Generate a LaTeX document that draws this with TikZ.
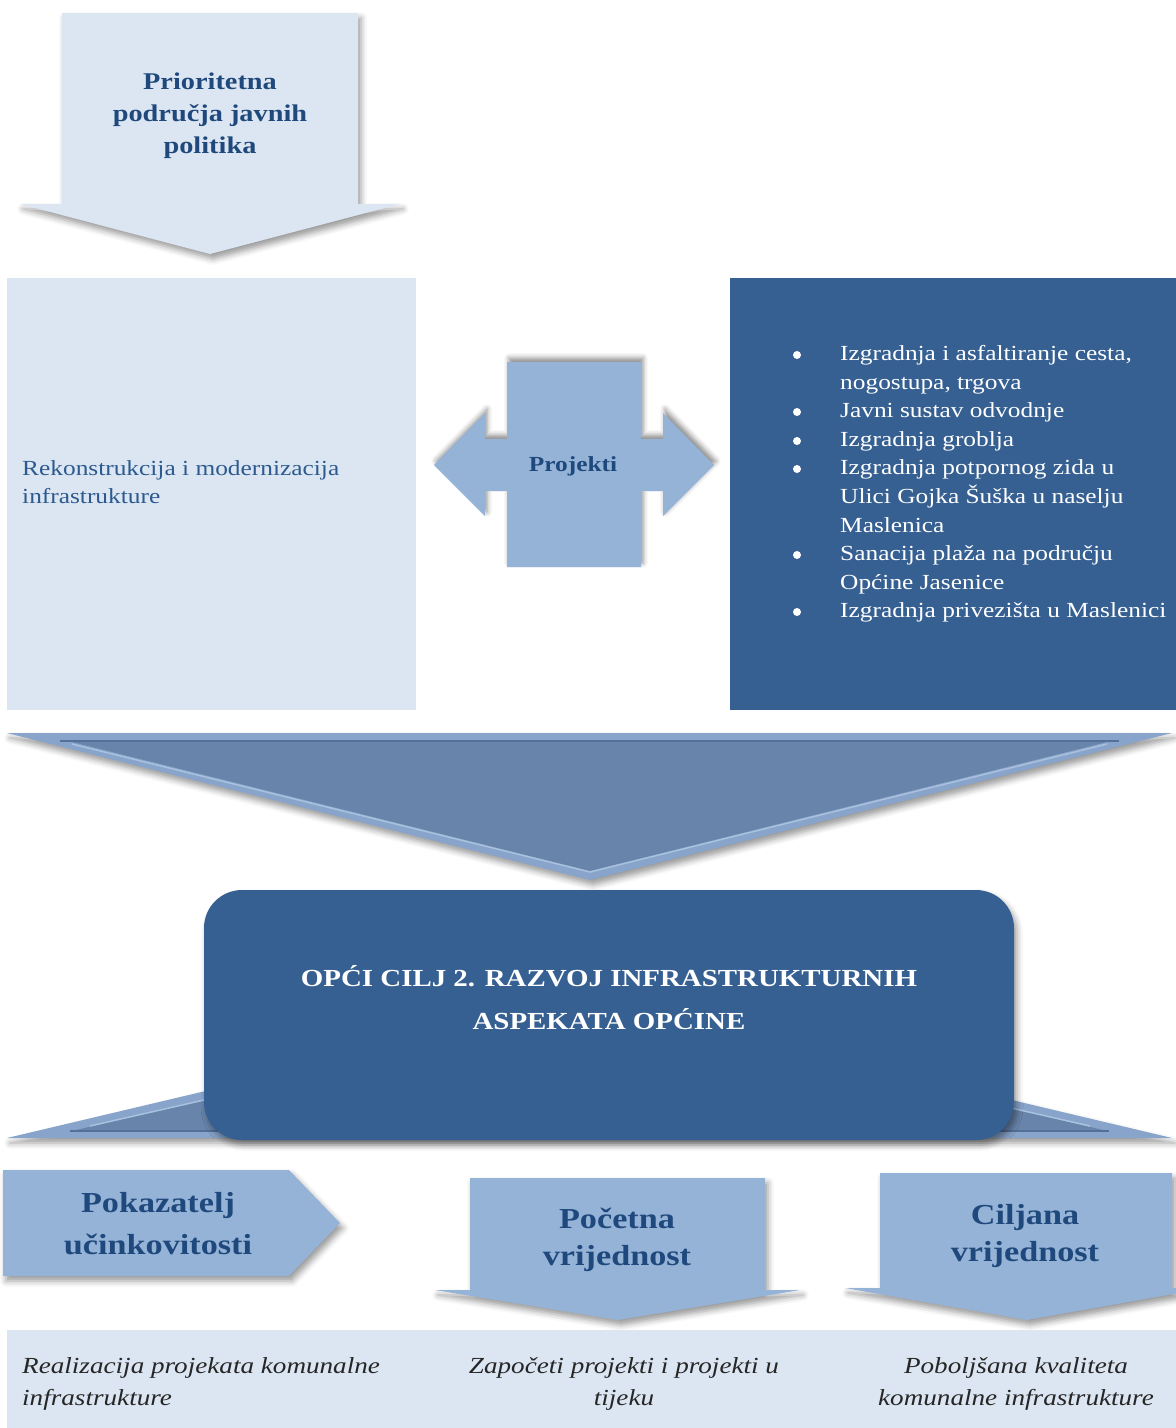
\documentclass[tikz,border=0pt]{standalone}
\usepackage{fontspec}
\setmainfont{Liberation Serif}[FakeStretch=1.18]
\usetikzlibrary{shadows.blur}
\definecolor{lightbg}{HTML}{DCE6F2}
\definecolor{midblue}{HTML}{95B3D7}
\definecolor{darkbox}{HTML}{366092}
\definecolor{headtxt}{HTML}{1F497D}
\definecolor{lefttxt}{HTML}{2C5A8E}
\definecolor{triout}{HTML}{88A4CA}
\definecolor{triin}{HTML}{6884AA}
\definecolor{trihi}{HTML}{A9C1DE}
\definecolor{trilo}{HTML}{54709A}
\tikzset{
  softshadow/.style={blur shadow={shadow xshift=3pt, shadow yshift=-5pt, shadow blur radius=6pt, shadow opacity=40}},
  upshadow/.style={blur shadow={shadow xshift=2pt, shadow yshift=4pt, shadow blur radius=5pt, shadow opacity=45}},
  headlbl/.style={inner sep=0pt, align=center, text=headtxt, font=\fontsize{24}{32}\selectfont\bfseries},
  biglbl/.style={inner sep=0pt, align=center, text=headtxt, font=\fontsize{29}{37}\selectfont\bfseries},
  bodylbl/.style={inner sep=0pt, align=left, font=\fontsize{21.5}{28.6}\selectfont},
  itlbl/.style={inner sep=0pt, text=black!85, font=\fontsize{23}{32}\selectfont\itshape},
  bul/.style={circle, fill=white, inner sep=0pt, minimum size=8pt},
}
\begin{document}
\begin{tikzpicture}[x=1pt,y=-1pt]
\useasboundingbox (0,0) rectangle (1176,1428);

% top down arrow
\path[fill=lightbg, softshadow] (62,13) -- (358,13) -- (358,204) -- (400,204) -- (210,254) -- (20,204) -- (62,204) -- cycle;
\node[headlbl] (prio) at (210,116) {Prioritetna\\područja javnih\\politika};

% left box
\path[fill=lightbg] (7,278) rectangle (416,710);
\node[bodylbl, text=lefttxt, anchor=west] (rek) at (22,482) {Rekonstrukcija i modernizacija\\infrastrukture};

% right box
\path[fill=darkbox] (730,278) rectangle (1176,710);
\node[bodylbl, text=white, anchor=west] (list) at (840,484) {Izgradnja i asfaltiranje cesta,\\nogostupa, trgova\\Javni sustav odvodnje\\Izgradnja groblja\\Izgradnja potpornog zida u\\Ulici Gojka Šuška u naselju\\Maslenica\\Sanacija plaža na području\\Općine Jasenice\\Izgradnja privezišta u Maslenici};
\foreach \i/\yy in {1/355, 2/412, 3/441, 4/469, 5/555, 6/612} {
  \path (797,\yy) node[bul] (bul\i) {};
}

% Projekti cross arrow
\path[fill=midblue, upshadow] (507,362) -- (641,362) -- (641,439) -- (663,439) -- (663,413) -- (714,465) -- (663,516) -- (663,491) -- (641,491) -- (641,567) -- (507,567) -- (507,491) -- (485,491) -- (485,516) -- (434,465) -- (485,413) -- (485,439) -- (507,439) -- cycle;
\node[inner sep=0pt, text=headtxt, font=\fontsize{21.5}{26}\selectfont\bfseries] (proj) at (573,466) {Projekti};

% big downward triangle
\path[fill=triout, softshadow] (7,733) -- (1172,733) -- (590,880) -- cycle;
\path[fill=triin] (72,742) -- (1107,742) -- (590,871) -- cycle;
\draw[trilo, line width=2pt] (60,741) -- (1119,741);
\draw[trihi, line width=1.5pt] (72,744) -- (590,872) -- (1107,744);

% lower upward triangle behind goal box
\path[fill=triout, softshadow] (7,1138) -- (1172,1138) -- (590,1000) -- cycle;
\path[fill=triin] (76,1130) -- (1103,1130) -- (590,1009) -- cycle;
\draw[trilo, line width=2pt] (70,1131) -- (1109,1131);
\draw[trihi, line width=1.5pt] (90,1126) -- (590,1012) -- (1090,1126);

% goal box
\path[fill=darkbox, rounded corners=38pt, softshadow] (204,890) rectangle (1014,1140);
\node[inner sep=0pt, align=center, text=white, font=\fontsize{24.5}{43}\selectfont\bfseries] (goal) at (609,998) {OPĆI CILJ 2. RAZVOJ INFRASTRUKTURNIH\\ASPEKATA OPĆINE};

% indicator arrow
\path[fill=midblue, softshadow] (3,1170) -- (289,1170) -- (340,1223) -- (289,1276) -- (3,1276) -- cycle;
\node[biglbl, font=\fontsize{29}{42}\selectfont\bfseries] (pok) at (158,1224) {Pokazatelj\\učinkovitosti};

% baseline arrow
\path[fill=midblue, softshadow] (470,1178) -- (765,1178) -- (765,1290) -- (800,1290) -- (618,1320) -- (435,1290) -- (470,1290) -- cycle;
\node[biglbl] (poc) at (617,1240) {Početna\\vrijednost};

% target arrow
\path[fill=midblue, softshadow] (880,1173) -- (1172,1173) -- (1172,1288) -- (1207,1288) -- (1027,1320) -- (845,1288) -- (880,1288) -- cycle;
\node[biglbl] (cilj) at (1025,1236) {Ciljana\\vrijednost};

% bottom strip
\path[fill=lightbg] (7,1330) rectangle (1176,1428);
\node[itlbl, align=left, anchor=west] (r1) at (22,1384) {Realizacija projekata komunalne\\infrastrukture};
\node[itlbl, align=center] (r2) at (624,1384) {Započeti projekti i projekti u\\tijeku};
\node[itlbl, align=center] (r3) at (1016,1384) {Poboljšana kvaliteta\\komunalne infrastrukture};
\end{tikzpicture}
\end{document}
